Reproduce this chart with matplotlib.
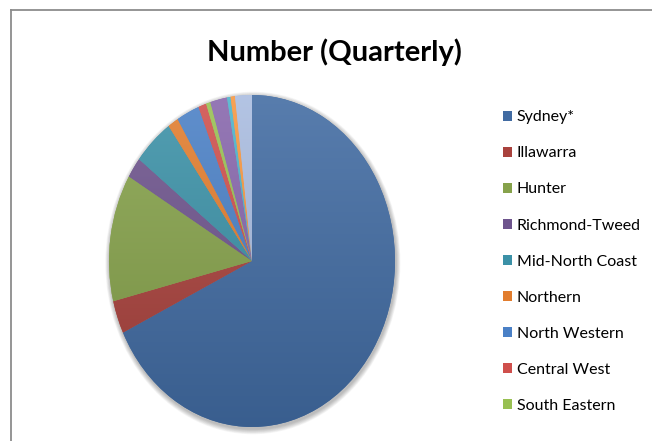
import numpy as np
import matplotlib
matplotlib.use("Agg")
import matplotlib.pyplot as plt
from matplotlib.patches import Ellipse
from matplotlib.lines import Line2D
from matplotlib.colors import to_rgb

# regions in chart order (share of quarterly number, %)
regions = ['Sydney*', 'Illawarra', 'Hunter', 'Richmond-Tweed', 'Mid-North Coast',
           'Northern', 'North Western', 'Central West', 'South Eastern',
           'Murrumbidgee', 'Murray', 'Far West', 'Other']
shares = [67.9, 3.2, 12.4, 2.0, 4.6, 1.2, 2.6, 0.9, 0.5, 1.9, 0.4, 0.5, 1.9]
colors = ['#416BA2', '#A9423D', '#86A24B', '#6E548D', '#3B91A7', '#E27D2E',
          '#4A80C6', '#CF4F4C', '#98C052', '#8766AC', '#4BB3CB', '#F7963F', '#A9BCE0']
n_legend = 9  # the legend in the original only has room for the first nine

plt.rcParams['font.family'] = ['Lato', 'DejaVu Sans']

fig = plt.figure(figsize=(6.52, 4.41), dpi=100)

# chart frame (only top/left edges visible in the crop)
fig.add_artist(Line2D([11/652, 1], [1 - 10/441, 1 - 10/441], color='#8C8C8C', lw=1.3))
fig.add_artist(Line2D([11/652, 11/652], [0, 1 - 10/441], color='#8C8C8C', lw=1.3))

fig.text(334/652, 1 - 52/441, 'Number (Quarterly)', ha='center', va='center',
         fontsize=21, fontweight='bold', color='black')

# pie ellipse: 286 px wide, 332 px tall, centred at (252, 261)
ax = fig.add_axes([(252 - 143)/652, (441 - 261 - 166)/441, 286/652, 332/441])
ax.axis('off')

# soft shadow around the pie
for k in range(8):
    r = 1 + 0.004 * (k + 1)
    ax.add_patch(Ellipse((0.006, -0.012), 2 * r, 2 * r, color='black', alpha=0.035,
                         lw=0, zorder=0, clip_on=False))

wedges, _ = ax.pie(shares, colors=colors, startangle=90, counterclock=False,
                   radius=1, wedgeprops=dict(linewidth=0))
ax.set_xlim(-1, 1)
ax.set_ylim(-1, 1)
ax.set_aspect('auto')

# vertical gradient fill in each slice, lighter at top
t = np.linspace(0, 1, 256)[:, None]
for w, c in zip(wedges, colors):
    base = np.array(to_rgb(c))
    top = base * 0.88 + 0.12
    bot = base * 0.88
    img = top[None, :] * (1 - t) + bot[None, :] * t
    img = img[:, None, :]
    im = ax.imshow(img, extent=(-1, 1, -1, 1), aspect='auto', zorder=2,
                   interpolation='bilinear')
    im.set_clip_path(w)

fig.legend(wedges[:n_legend], regions[:n_legend], loc='upper left',
           bbox_to_anchor=(497/652, 1 - 104/441), frameon=False, fontsize=11.5,
           handlelength=0.55, handleheight=0.55, handletextpad=0.3,
           labelspacing=1.38, borderaxespad=0)

fig.savefig('out.png', dpi=100)
